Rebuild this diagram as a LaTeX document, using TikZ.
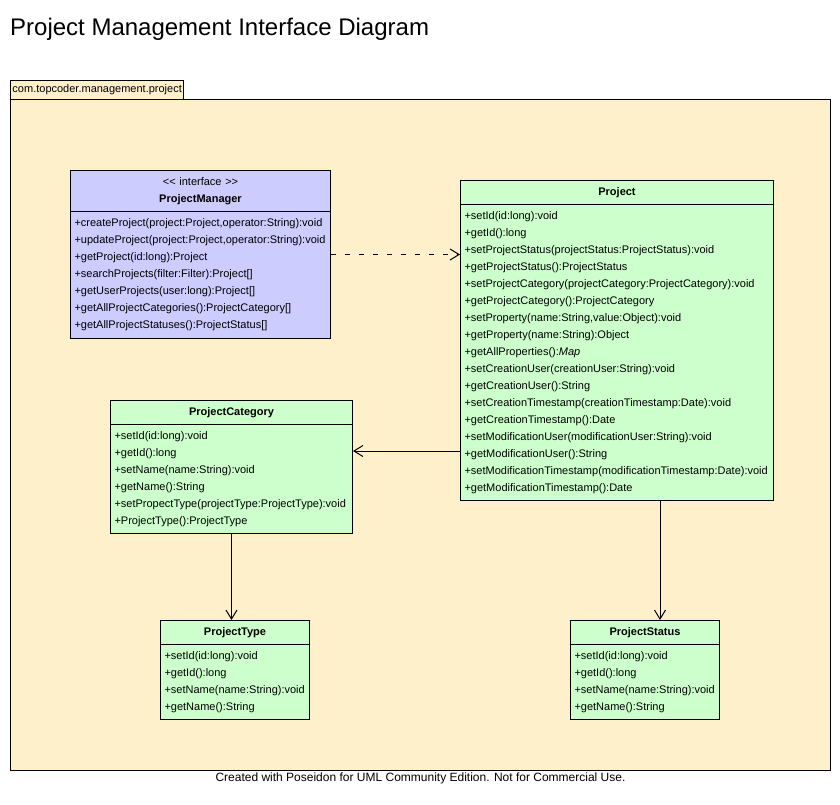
\documentclass[tikz,border=0pt]{standalone}
\usepackage{fontspec}
\setmainfont{Liberation Sans}
\usetikzlibrary{shapes.multipart,arrows.meta,calc}
\definecolor{pkgfill}{HTML}{FFF0CC}
\definecolor{ifcfill}{HTML}{CCCCFF}
\definecolor{clsfill}{HTML}{CCFFCC}
\tikzset{
    x=1pt, y=-1pt, % one unit is one pixel, y grows downwards
    umlclass/.style={rectangle split, rectangle split parts=2, draw, line width=1pt,
        anchor=north west, inner xsep=4pt, inner ysep=3pt, align=center,
        fill=clsfill, font=\fontsize{11}{17}\selectfont}, % class box: name part and operations part
    every two node part/.style={align=left}, % operations are left aligned
    pkgbody/.style={draw, fill=pkgfill, line width=1pt, anchor=north west, inner sep=0pt},
    pkgtab/.style={draw, fill=pkgfill, line width=1pt, anchor=north west,
        minimum width=173pt, minimum height=19pt, inner xsep=2pt, inner ysep=0pt,
        font=\fontsize{11}{13}\selectfont},
    openhead/.style={-{Straight Barb[length=9pt,width=11pt]}}, % open V arrow head
    realize/.style={line width=1pt, dash pattern=on 5pt off 9pt, openhead},
    assoc/.style={line width=1pt, openhead},
}

\begin{document}
\begin{tikzpicture}
  \useasboundingbox (0,0) rectangle (840,804);

  \node[anchor=base west, inner sep=0pt, font=\fontsize{24}{28}\selectfont] (title) at (10,35)
    {Project Management Interface Diagram};

  % package
  \node[pkgbody, minimum width=820pt, minimum height=671pt] (pkg) at (10,99) {};
  \node[pkgtab] (tab) at (10,80) {com.topcoder.management.project};

  \node[umlclass, fill=ifcfill, text width=252pt] (pm) at (70,170)
    {\strut <{}< interface >{}>\\ \textbf{ProjectManager}\strut
     \nodepart{two}\strut +createProject(project:Project,operator:String):void\\
     +updateProject(project:Project,operator:String):void\\
     +getProject(id:long):Project\\
     +searchProjects(filter:Filter):Project[]\\
     +getUserProjects(user:long):Project[]\\
     +getAllProjectCategories():ProjectCategory[]\\
     +getAllProjectStatuses():ProjectStatus[]\strut\vspace{1pt}};

  \node[umlclass, text width=305pt] (prj) at (460,180)
    {\strut\textbf{Project}
     \nodepart{two}\strut +setId(id:long):void\\
     +getId():long\\
     +setProjectStatus(projectStatus:ProjectStatus):void\\
     +getProjectStatus():ProjectStatus\\
     +setProjectCategory(projectCategory:ProjectCategory):void\\
     +getProjectCategory():ProjectCategory\\
     +setProperty(name:String,value:Object):void\\
     +getProperty(name:String):Object\\
     +getAllProperties():\textit{Map}\\
     +setCreationUser(creationUser:String):void\\
     +getCreationUser():String\\
     +setCreationTimestamp(creationTimestamp:Date):void\\
     +getCreationTimestamp():Date\\
     +setModificationUser(modificationUser:String):void\\
     +getModificationUser():String\\
     +setModificationTimestamp(modificationTimestamp:Date):void\\
     +getModificationTimestamp():Date\strut};

  \node[umlclass, text width=234pt] (cat) at (110,400)
    {\strut\textbf{ProjectCategory}
     \nodepart{two}\strut +setId(id:long):void\\
     +getId():long\\
     +setName(name:String):void\\
     +getName():String\\
     +setPropectType(projectType:ProjectType):void\\
     +ProjectType():ProjectType\strut};

  \node[umlclass, text width=141pt] (typ) at (160,620)
    {\strut\textbf{ProjectType}
     \nodepart{two}\strut +setId(id:long):void\\
     +getId():long\\
     +setName(name:String):void\\
     +getName():String\strut};

  \node[umlclass, text width=141pt] (sts) at (570,620)
    {\strut\textbf{ProjectStatus}
     \nodepart{two}\strut +setId(id:long):void\\
     +getId():long\\
     +setName(name:String):void\\
     +getName():String\strut};

  \coordinate (catrow) at (0,451);
  \coordinate (stscol) at (660,0);
  \path
    (pm.east) edge[realize] (pm.east -| prj.west)
    (prj.west |- catrow) edge[assoc] (cat.east |- catrow)
    (cat.south) edge[assoc] (cat.south |- typ.north)
    (prj.south -| stscol) edge[assoc] (sts.north -| stscol);

  \node[anchor=base, inner sep=0pt, font=\fontsize{12}{14}\selectfont] (credit) at (420.5,781)
    {Created with Poseidon for UML Community Edition. Not for Commercial Use.};
\end{tikzpicture}
\end{document}
